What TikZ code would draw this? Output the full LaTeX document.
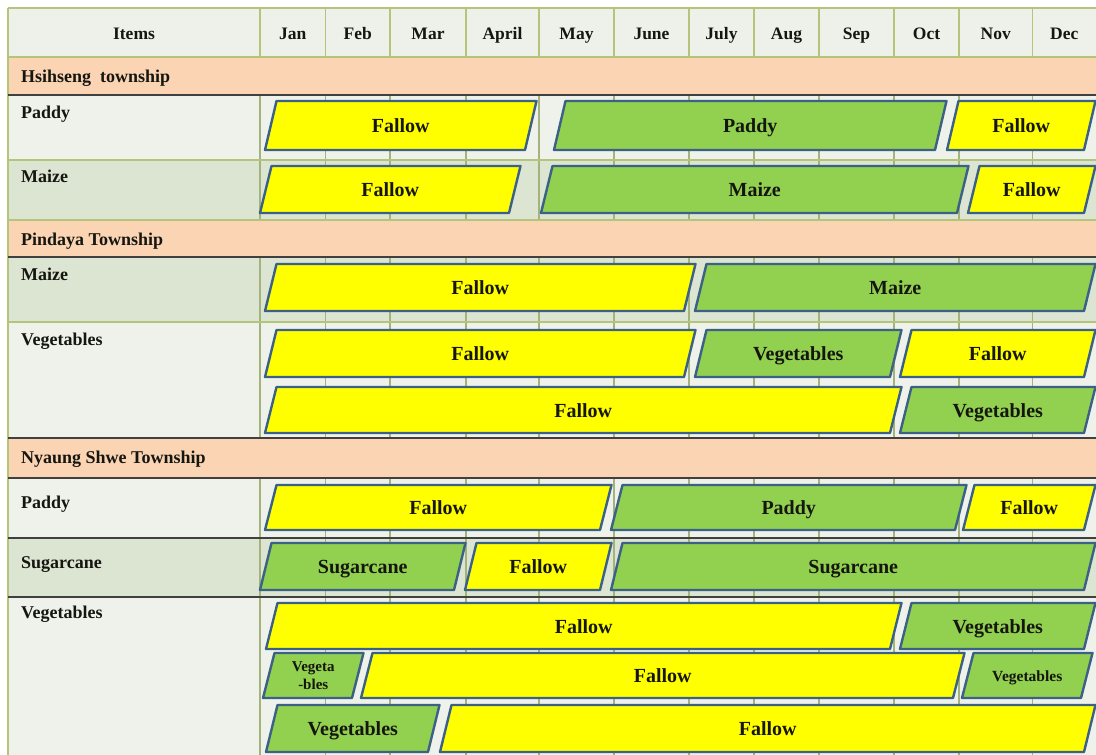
\documentclass[tikz,border=0pt]{standalone}
\usepackage{fontspec}
\setmainfont{Liberation Serif}

\definecolor{hdrbg}{HTML}{EEF1EA}
\definecolor{litebg}{HTML}{EEF2EB}
\definecolor{darkbg}{HTML}{DCE4D2}
\definecolor{townbg}{HTML}{FBD4B4}
\definecolor{gridc}{HTML}{B2C57A}
\definecolor{cellgrid}{HTML}{A4B27C}
\definecolor{rulec}{HTML}{404040}
\definecolor{fallowfill}{HTML}{FFFF00}
\definecolor{cropfill}{HTML}{92D050}
\definecolor{edgec}{HTML}{3C6186}
\definecolor{inkc}{HTML}{161610}

\tikzset{
  gridline/.style={draw=gridc, line width=1.3pt},
  cellline/.style={draw=cellgrid, line width=1.3pt},
  darkrule/.style={draw=rulec, line width=2pt},
  barshape/.style={draw=edgec, line width=2.4pt, line join=round},
  fallow/.style={barshape, fill=fallowfill},
  crop/.style={barshape, fill=cropfill},
  bartext/.style={text=inkc, font=\bfseries\fontsize{20}{22}\selectfont, inner sep=0pt, align=center, anchor=base},
  hdr/.style={text=inkc, font=\bfseries\fontsize{17.5}{20}\selectfont, inner sep=0pt, anchor=base},
  rowlab/.style={text=inkc, font=\bfseries\fontsize{18}{20}\selectfont, inner sep=0pt, anchor=base west},
}

% slanted bar: [node options]{name}{bottom-left x}{bottom-right x}{top y}{bottom y}{style}{label}
\newcommand\cropbar[8][]{%
  \draw[#7] (#3,#6) -- ({#3+11.5},#5) -- ({#4+11.5},#5) -- (#4,#6) -- cycle;
  \node[bartext,#1] (#2) at ({(#3+#4)/2+5.75},{(#5+#6)/2+7}) {#8};}

\begin{document}
\begin{tikzpicture}[x=1pt,y=-1pt]
\useasboundingbox (0,0) rectangle (1096,755);

% row backgrounds
\fill[hdrbg]  (8,8)   rectangle (1096,57);
\fill[townbg] (8,57)  rectangle (1096,95);
\fill[litebg] (8,95)  rectangle (1096,160);
\fill[darkbg] (8,160) rectangle (1096,220);
\fill[townbg] (8,220) rectangle (1096,257);
\fill[darkbg] (8,257) rectangle (1096,322);
\fill[litebg] (8,322) rectangle (1096,438);
\fill[townbg] (8,438) rectangle (1096,478);
\fill[litebg] (8,478) rectangle (1096,538);
\fill[darkbg] (8,538) rectangle (1096,597);
\fill[litebg] (8,597) rectangle (1096,755);

% vertical grid lines (not across the township rows)
\foreach \cx in {260,325.5,390,466,539,614,689,754,819,894,959,1032.5}{
  \draw[gridline] (\cx,8) -- (\cx,57);
  \draw[cellline] (\cx,95) -- (\cx,220);
  \draw[cellline] (\cx,257) -- (\cx,438);
  \draw[cellline] (\cx,478) -- (\cx,755);
}
\draw[gridline] (8,8) -- (8,755);

% horizontal grid lines
\foreach \ry in {8,57,160,220,322}{
  \draw[gridline] (8,\ry) -- (1096,\ry);
}
\foreach \ry in {95,257,438,478,538,597}{
  \draw[darkrule] (8,\ry) -- (1096,\ry);
}

% column headings
\node[hdr] (hItems) at (134,39) {Items};
\node[hdr] (hJan) at (292.75,39) {Jan};
\node[hdr] (hFeb) at (357.75,39) {Feb};
\node[hdr] (hMar) at (428,39) {Mar};
\node[hdr] (hApr) at (502.5,39) {April};
\node[hdr] (hMay) at (576.5,39) {May};
\node[hdr] (hJun) at (651.5,39) {June};
\node[hdr] (hJul) at (721.5,39) {July};
\node[hdr] (hAug) at (786.5,39) {Aug};
\node[hdr] (hSep) at (856.5,39) {Sep};
\node[hdr] (hOct) at (926.5,39) {Oct};
\node[hdr] (hNov) at (995.75,39) {Nov};
\node[hdr] (hDec) at (1064.25,39) {Dec};

% township and item labels
\node[rowlab] (tHsi) at (21,82) {Hsihseng\ \ township};
\node[rowlab] (iHsiPaddy) at (21,118) {Paddy};
\node[rowlab] (iHsiMaize) at (21,182) {Maize};
\node[rowlab] (tPin) at (21,245) {Pindaya Township};
\node[rowlab] (iPinMaize) at (21,280) {Maize};
\node[rowlab] (iPinVeg) at (21,345) {Vegetables};
\node[rowlab] (tNya) at (21,463) {Nyaung Shwe Township};
\node[rowlab] (iNyaPaddy) at (21,508) {Paddy};
\node[rowlab] (iNyaSugar) at (21,568) {Sugarcane};
\node[rowlab] (iNyaVeg) at (21,618) {Vegetables};

% Hsihseng township
\cropbar{a1}{265}{525}{101}{150}{fallow}{Fallow}
\cropbar{a2}{554}{935}{101}{150}{crop}{Paddy}
\cropbar{a3}{947}{1084}{101}{150}{fallow}{Fallow}
\cropbar{b1}{260}{509}{166}{213}{fallow}{Fallow}
\cropbar{b2}{541}{957}{166}{213}{crop}{Maize}
\cropbar{b3}{968}{1084}{166}{213}{fallow}{Fallow}

% Pindaya township
\cropbar{c1}{265}{684}{264}{311}{fallow}{Fallow}
\cropbar{c2}{695}{1084}{264}{311}{crop}{Maize}
\cropbar{d1}{265}{684}{330}{377}{fallow}{Fallow}
\cropbar{d2}{695}{890}{330}{377}{crop}{Vegetables}
\cropbar{d3}{900}{1084}{330}{377}{fallow}{Fallow}
\cropbar{e1}{265}{890}{387}{433}{fallow}{Fallow}
\cropbar{e2}{900}{1084}{387}{433}{crop}{Vegetables}

% Nyaung Shwe township
\cropbar{f1}{265}{600}{485}{530}{fallow}{Fallow}
\cropbar{f2}{611}{955}{485}{530}{crop}{Paddy}
\cropbar{f3}{963}{1084}{485}{530}{fallow}{Fallow}
\cropbar{g1}{260}{454}{543}{590}{crop}{Sugarcane}
\cropbar{g2}{465}{600}{543}{590}{fallow}{Fallow}
\cropbar{g3}{611}{1084}{543}{590}{crop}{Sugarcane}
\cropbar{h1}{266}{890}{603}{649}{fallow}{Fallow}
\cropbar{h2}{900}{1084}{603}{649}{crop}{Vegetables}
\cropbar[anchor=center,yshift=7pt,font=\bfseries\fontsize{15}{18}\selectfont]{i1}{263}{352}{653}{698}{crop}{Vegeta\\-bles}
\cropbar{i2}{361}{953}{653}{698}{fallow}{Fallow}
\cropbar[font=\bfseries\fontsize{15.5}{18}\selectfont,yshift=1.5pt]{i3}{962}{1081}{653}{698}{crop}{Vegetables}
\cropbar{j1}{266}{428}{705}{752}{crop}{Vegetables}
\cropbar{j2}{440}{1084}{705}{752}{fallow}{Fallow}
\end{tikzpicture}
\end{document}
